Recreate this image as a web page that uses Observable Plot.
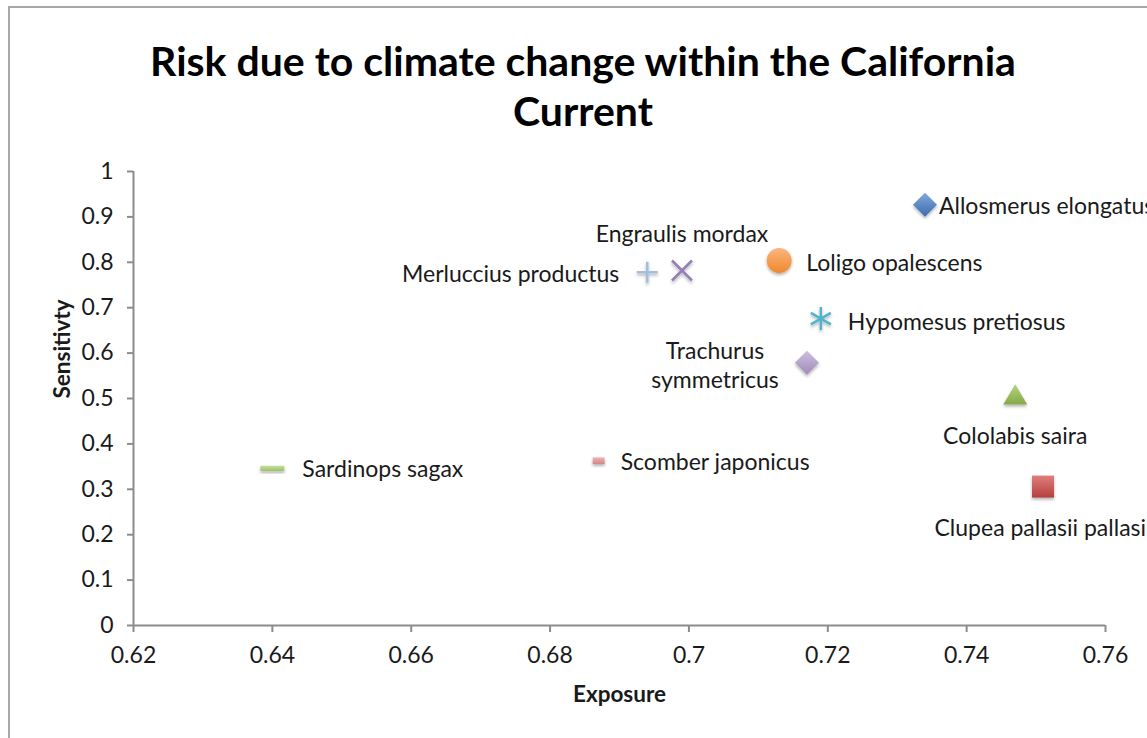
<!DOCTYPE html>
<html>
<head>
<meta charset="utf-8">
<script src="https://cdn.jsdelivr.net/npm/d3@7"></script>
<script src="https://cdn.jsdelivr.net/npm/@observablehq/plot@0.6"></script>
<style>
  html, body { margin: 0; padding: 0; background: #fff; overflow: hidden; width: 1147px; height: 738px; }
  #frame { position: absolute; left: 8px; top: 6px; width: 1200px; height: 800px;
           border-left: 2px solid #a8a8a8; border-top: 2px solid #a8a8a8; }
  #title { position: absolute; left: 83px; width: 1000px; top: 36px; text-align: center;
           font-family: Lato, sans-serif; font-weight: 700; font-size: 41px; line-height: 50px; color: #000; }
  #chart { position: absolute; left: 0; top: 140px; }
</style>
</head>
<body>
<div id="frame"></div>
<div id="title">Risk due to climate change within the California<br>Current</div>
<div id="chart"></div>
<script>
// Species and their exposure / sensitivity scores
const species = [
  "Allosmerus elongatus", "Loligo opalescens", "Engraulis mordax", "Merluccius productus",
  "Hypomesus pretiosus", "Trachurus symmetricus", "Cololabis saira", "Clupea pallasii pallasii",
  "Sardinops sagax", "Scomber japonicus"
];
const exposure    = [0.734, 0.713, 0.699, 0.694, 0.719, 0.717, 0.747, 0.751, 0.640, 0.687];
const sensitivity = [0.927, 0.804, 0.782, 0.778, 0.676, 0.579, 0.509, 0.306, 0.346, 0.363];

const xTicks = [0.62, 0.64, 0.66, 0.68, 0.70, 0.72, 0.74, 0.76];
const yTicks = [0, 0.1, 0.2, 0.3, 0.4, 0.5, 0.6, 0.7, 0.8, 0.9, 1];

const data = species.map((name, i) => ({name, exposure: exposure[i], sensitivity: sensitivity[i]}));

// Marker shapes; r is the half-extent in pixels
const half = (size) => Math.sqrt(size / Math.PI);
const shapes = {
  diamond: {draw(c, s) { const h = half(s); c.moveTo(0, -h); c.lineTo(h, 0); c.lineTo(0, h); c.lineTo(-h, 0); c.closePath(); }},
  circle:  {draw(c, s) { const h = half(s); c.moveTo(h, 0); c.arc(0, 0, h, 0, 2 * Math.PI); }},
  square:  {draw(c, s) { const h = half(s); c.rect(-h, -h, 2 * h, 2 * h); }},
  triangle:{draw(c, s) { const h = half(s); c.moveTo(0, -0.85 * h); c.lineTo(h, 0.85 * h); c.lineTo(-h, 0.85 * h); c.closePath(); }},
  plus:    {draw(c, s) { const h = half(s); c.moveTo(-h, 0); c.lineTo(h, 0); c.moveTo(0, -h); c.lineTo(0, h); }},
  times:   {draw(c, s) { const h = half(s); c.moveTo(-h, -h); c.lineTo(h, h); c.moveTo(h, -h); c.lineTo(-h, h); }},
  asterisk:{draw(c, s) { const h = half(s), a = 0.87 * h, b = 0.5 * h;
             c.moveTo(0, -h); c.lineTo(0, h); c.moveTo(-a, -b); c.lineTo(a, b); c.moveTo(a, -b); c.lineTo(-a, b); }},
  dash:    {draw(c, s) { const h = half(s); c.rect(-h, -0.22 * h, 2 * h, 0.44 * h); }},
  bar:     {draw(c, s) { const h = half(s); c.rect(-h, -0.55 * h, 2 * h, 1.1 * h); }}
};

// Per-species marker and label styling
const look = {
  "Allosmerus elongatus":     {shape: "diamond",  r: 12,   fill: "url(#g-blue)",   side: "start",  dx: 14,  dy: 0},
  "Loligo opalescens":        {shape: "circle",   r: 12.5, fill: "url(#g-orange)", side: "start",  dx: 27,  dy: 1},
  "Engraulis mordax":         {shape: "times",    r: 10,   stroke: "#9580b6", sw: 2.6, side: "middle", dx: 0, dy: -38},
  "Merluccius productus":     {shape: "plus",     r: 10.5, stroke: "#a3bde0", sw: 2.5, side: "end", dx: -28, dy: 1},
  "Hypomesus pretiosus":      {shape: "asterisk", r: 11.5, stroke: "#52b3cc", sw: 2.5, side: "start", dx: 27, dy: 2},
  "Trachurus symmetricus":    {shape: "diamond",  r: 12,   fill: "url(#g-lav)",    side: "middle", dx: -92, dy: 2},
  "Cololabis saira":          {shape: "triangle", r: 12,   fill: "url(#g-green)",  side: "middle", dx: 0,   dy: 40},
  "Clupea pallasii pallasii": {shape: "square",   r: 11,   fill: "url(#g-red)",    side: "middle", dx: 0,   dy: 40},
  "Sardinops sagax":          {shape: "dash",     r: 12,   fill: "url(#g-lgreen)", side: "start",  dx: 30,  dy: -1},
  "Scomber japonicus":        {shape: "bar",      r: 6,    fill: "url(#g-pink)",   side: "start",  dx: 22,  dy: 0}
};
const labelText = {"Trachurus symmetricus": "Trachurus\nsymmetricus"};

const fmt = (d) => String(+d.toFixed(2));
const axisGray = "#8c8c8c";
const textColor = "#1a1a1a";

const markerMarks = data.map((d) => {
  const s = look[d.name];
  return Plot.dot([d], {
    x: "exposure", y: "sensitivity",
    symbol: shapes[s.shape], r: s.r,
    fill: s.fill || "none",
    stroke: s.stroke || "none",
    strokeWidth: s.sw || 0,
    strokeLinecap: "butt"
  });
});

const labelMarks = data.map((d) => {
  const s = look[d.name];
  return Plot.text([d], {
    x: "exposure", y: "sensitivity",
    text: (p) => labelText[p.name] || p.name,
    textAnchor: s.side, dx: s.dx, dy: s.dy,
    fontSize: 23, lineHeight: 1.25, fill: textColor
  });
});

const chart = Plot.plot({
  width: 1147,
  height: 598,
  marginTop: 31,
  marginBottom: 113,
  marginLeft: 133,
  marginRight: 42,
  style: {fontFamily: "Lato, sans-serif", background: "transparent", overflow: "visible"},
  x: {domain: [0.62, 0.76]},
  y: {domain: [0, 1]},
  marks: [
    Plot.axisX(xTicks, {tickSize: 7, tickPadding: 14, fontSize: 23, stroke: axisGray, strokeWidth: 2,
                        fill: textColor, tickFormat: fmt, label: null}),
    Plot.axisY(yTicks, {tickSize: 6, tickPadding: 14, fontSize: 23, stroke: axisGray, strokeWidth: 2,
                        fill: textColor, tickFormat: fmt, label: null}),
    Plot.ruleY([0], {stroke: axisGray, strokeWidth: 2}),
    Plot.ruleX([0.62], {stroke: axisGray, strokeWidth: 2}),
    Plot.text(["Exposure"], {frameAnchor: "bottom", dy: 76, fontSize: 22.5, fontWeight: "bold", fill: textColor}),
    Plot.text(["Sensitivty"], {frameAnchor: "left", dx: -71, rotate: -90, fontSize: 22.5, fontWeight: "bold", fill: textColor}),
    ...markerMarks,
    ...labelMarks
  ]
});

// Gradient fills and soft shadow for the markers
const defs = d3.select(chart).insert("defs", ":first-child");
const grads = {
  "g-blue":   ["#82a8dc", "#3c6cad"],
  "g-orange": ["#fcb67f", "#f0882c"],
  "g-lav":    ["#cdbfdf", "#9f8bbb"],
  "g-green":  ["#b6d47f", "#86a846"],
  "g-red":    ["#e07f7c", "#b4403d"],
  "g-lgreen": ["#c6df9f", "#9dbf68"],
  "g-pink":   ["#eab4b2", "#d38885"]
};
for (const [id, [top, bottom]] of Object.entries(grads)) {
  const g = defs.append("linearGradient").attr("id", id).attr("x1", 0).attr("y1", 0).attr("x2", 0).attr("y2", 1);
  g.append("stop").attr("offset", "0%").attr("stop-color", top);
  g.append("stop").attr("offset", "100%").attr("stop-color", bottom);
}
defs.append("filter").attr("id", "shadow").attr("x", "-50%").attr("y", "-50%").attr("width", "200%").attr("height", "200%")
  .append("feDropShadow").attr("dx", 0).attr("dy", 2).attr("stdDeviation", 1.6)
  .attr("flood-color", "#000").attr("flood-opacity", 0.3);
d3.select(chart).selectAll('g[aria-label="dot"] path').attr("filter", "url(#shadow)");

document.getElementById("chart").appendChild(chart);
</script>
</body>
</html>
